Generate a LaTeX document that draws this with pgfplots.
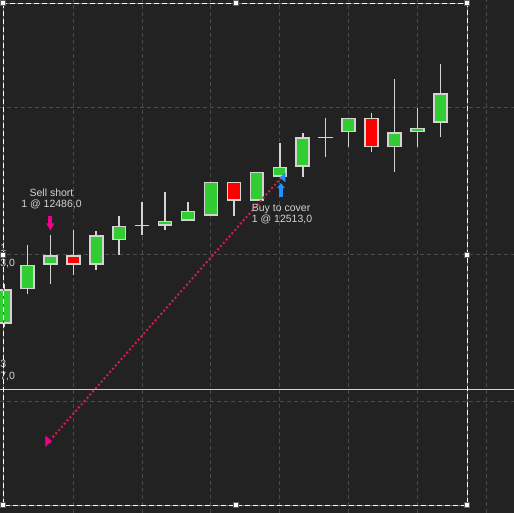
\documentclass[border=0pt]{standalone}
\usepackage{fontspec}
\setmainfont{Liberation Sans}
\usepackage{pgfplots}
\pgfplotsset{compat=1.18}
\usepackage{pgfplotstable}
\usetikzlibrary{arrows.meta}

\definecolor{bgc}{HTML}{222222}
\definecolor{gridc}{HTML}{4A4A4A}
\definecolor{edgec}{HTML}{D3D3D3}
\definecolor{upc}{HTML}{32CD32}
\definecolor{downc}{HTML}{FF0000}
\definecolor{txtc}{HTML}{D4D4D4}
\definecolor{dotc}{HTML}{D21E4B}
\definecolor{selblue}{HTML}{2F6FC0}
\definecolor{buyblue}{HTML}{1E90FF}
\definecolor{handlec}{HTML}{5A5A5A}

% x = bar index, o h l c = open high low close
\pgfplotstableread{
x o h l c
0 12498.0 12502.0 12497.7 12501.5
1 12501.5 12506.0 12501.0 12504.0
2 12504.0 12507.0 12502.0 12505.0
4 12504.0 12507.4 12503.5 12507.0
5 12506.5 12509.0 12505.0 12508.0
7 12508.0 12511.4 12507.5 12508.5
8 12508.5 12510.4 12508.5 12509.5
9 12509.0 12512.5 12509.0 12512.5
11 12510.5 12513.5 12510.5 12513.5
12 12513.0 12516.4 12513.0 12514.0
13 12514.0 12517.4 12513.0 12517.0
15 12517.5 12519.0 12516.0 12519.0
17 12516.0 12523.0 12513.5 12517.5
18 12517.5 12520.0 12516.0 12518.0
19 12518.5 12524.5 12517.0 12521.5
}\upcandles

\pgfplotstableread{
x o h l c
3 12505.0 12507.5 12503.0 12504.0
10 12512.5 12512.5 12509.0 12510.5
16 12519.0 12519.5 12515.5 12516.0
}\downcandles

\pgfplotstableread{
x o h l c
6 12508.0 12510.4 12507.0 12508.0
14 12517.0 12519.0 12515.0 12517.0
}\dojis

\tikzset{handle/.style={draw=handlec, fill=white, line width=0.8bp, minimum size=5bp, inner sep=0pt},
  gridline/.style={gridc, dash pattern=on 4bp off 3bp, line width=1bp}}

\begin{document}
\begin{tikzpicture}
\begin{axis}[
  width=514bp, height=513bp, scale only axis,
  xmin=-0.196, xmax=22.21, ymin=12478.67, ymax=12531.02,
  axis line style={draw=none},
  xtick=\empty, ytick=\empty,
  axis background/.style={fill=bgc},
]
% grid
\draw[gridline] (axis cs:3,12478.67) -- (axis cs:3,12531.02);
\draw[gridline] (axis cs:6,12478.67) -- (axis cs:6,12531.02);
\draw[gridline] (axis cs:9,12478.67) -- (axis cs:9,12531.02);
\draw[gridline] (axis cs:12,12478.67) -- (axis cs:12,12531.02);
\draw[gridline] (axis cs:15,12478.67) -- (axis cs:15,12531.02);
\draw[gridline] (axis cs:18,12478.67) -- (axis cs:18,12531.02);
\draw[gridline] (axis cs:21,12478.67) -- (axis cs:21,12531.02);
\draw[gridline] (axis cs:-0.196,12490) -- (axis cs:22.21,12490);
\draw[gridline] (axis cs:-0.196,12505) -- (axis cs:22.21,12505);
\draw[gridline] (axis cs:-0.196,12520) -- (axis cs:22.21,12520);

% current price line
\addplot[edgec, line width=1.3bp] coordinates {(-1,12491.3) (23,12491.3)};

% wicks
\addplot[edgec, line width=1.6bp, quiver={u=0, v=\thisrow{h}-\thisrow{l}}] table[x=x, y=l] {\upcandles};
\addplot[edgec, line width=1.6bp, quiver={u=0, v=\thisrow{h}-\thisrow{l}}] table[x=x, y=l] {\downcandles};
\addplot[edgec, line width=1.6bp, quiver={u=0, v=\thisrow{h}-\thisrow{l}}] table[x=x, y=l] {\dojis};
% doji crosses
\addplot[edgec, line width=1.6bp, quiver={u=0.632, v=0}] table[x expr=\thisrow{x}-0.316, y=o] {\dojis};

% bodies: outline
\addplot[edgec, line width=14.5bp, quiver={u=0, v=\thisrow{c}-\thisrow{o}}] table[x=x, y=o] {\upcandles};
\addplot[edgec, line width=14.5bp, quiver={u=0, v=\thisrow{o}-\thisrow{c}}] table[x=x, y=c] {\downcandles};
% bodies: fill
\addplot[upc, line width=11.3bp, quiver={u=0, v=\thisrow{c}-\thisrow{o}-0.33}] table[x=x, y expr=\thisrow{o}+0.165] {\upcandles};
\addplot[downc, line width=11.3bp, quiver={u=0, v=\thisrow{o}-\thisrow{c}-0.33}] table[x=x, y expr=\thisrow{c}+0.165] {\downcandles};

% trade line
\addplot[dotc, line width=2bp, dash pattern=on 2bp off 2.3bp] coordinates {(2.1,12486.4) (12.1,12513.0)};

% entry / exit markers
\addplot[only marks, mark=triangle*, mark size=5.8bp, color=magenta,
  mark options={rotate=-90, yscale=0.7, fill=magenta, draw=none}] coordinates {(1.88,12486.0)};
\addplot[only marks, mark=triangle*, mark size=5bp, color=buyblue,
  mark options={rotate=90, yscale=0.7, fill=buyblue, draw=none}] coordinates {(12.16,12512.9)};

% signal arrows
\addplot[magenta, line width=4bp, -{Triangle[width=7.7bp,length=7.4bp]}] coordinates {(2.0,12509.0) (2.0,12507.48)};
\addplot[buyblue, line width=4bp, -{Triangle[width=7.7bp,length=5.2bp]}] coordinates {(12.05,12510.95) (12.05,12512.35)};

% annotations
\node[anchor=center, inner sep=0pt, align=center, text=txtc, font=\fontsize{10.5bp}{11.5bp}\selectfont]
  at (axis cs:2.05,12510.74) {Sell short\\1 @ 12486,0};
\node[anchor=west, inner sep=0pt, align=left, text=txtc, font=\fontsize{10.5bp}{11.5bp}\selectfont]
  at (axis cs:10.776,12509.16) {Buy to cover\\1 @ 12513,0};

% price label fragments at the left edge
\node[anchor=west, inner sep=0pt, text=txtc, font=\fontsize{10.5bp}{11.5bp}\selectfont] at (axis cs:-0.19,12505.71) {1};
\node[anchor=west, inner sep=0pt, text=txtc, font=\fontsize{10.5bp}{11.5bp}\selectfont] at (axis cs:-0.19,12504.08) {3,0};
\node[anchor=west, inner sep=0pt, text=txtc, font=\fontsize{10.5bp}{11.5bp}\selectfont] at (axis cs:-0.19,12493.88) {3};
\node[anchor=west, inner sep=0pt, text=txtc, font=\fontsize{10.5bp}{11.5bp}\selectfont] at (axis cs:-0.19,12492.58) {7,0};

% selection rectangle
\draw[selblue, line width=1.4bp] (rel axis cs:0.00642,0.99357) rectangle (rel axis cs:0.9092,0.01501);
\draw[white, line width=1.4bp, dash pattern=on 5bp off 3bp] (rel axis cs:0.00642,0.99357) rectangle (rel axis cs:0.9092,0.01501);
\node[handle] at (rel axis cs:0.00642,0.99357) {};
\node[handle] at (rel axis cs:0.4597,0.99357) {};
\node[handle] at (rel axis cs:0.9092,0.99357) {};
\node[handle] at (rel axis cs:0.00642,0.50292) {};
\node[handle] at (rel axis cs:0.9092,0.50292) {};
\node[handle] at (rel axis cs:0.00642,0.01501) {};
\node[handle] at (rel axis cs:0.4597,0.01501) {};
\node[handle] at (rel axis cs:0.9092,0.01501) {};
\end{axis}
\pgfresetboundingbox
\useasboundingbox (current axis.south west) rectangle (current axis.north east);
\end{tikzpicture}
\end{document}
